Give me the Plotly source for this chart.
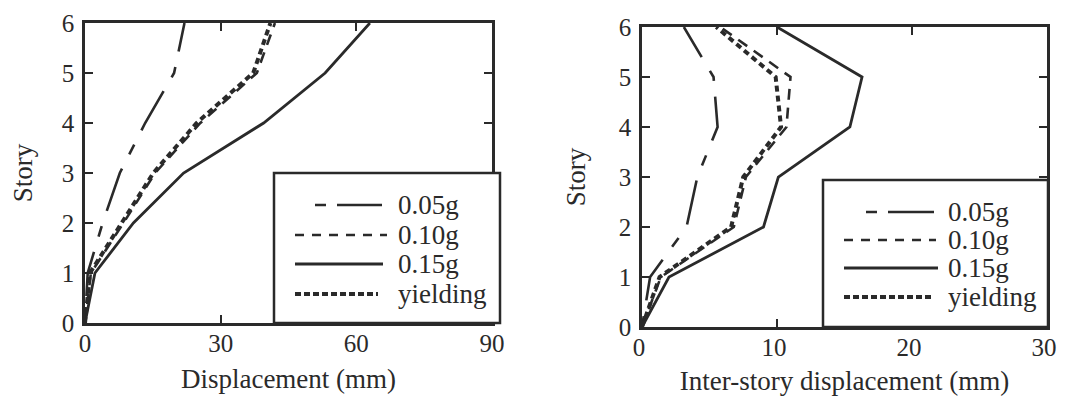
import plotly.graph_objects as go

# ---------------- data ----------------
stories = [0, 1, 2, 3, 4, 5, 6]
series_names = ["0.05g", "0.10g", "0.15g", "yielding"]

disp_005 = [0, 0.6, 3.9, 7.7, 13.3, 19.7, 22.0]
disp_010 = [0, 1.3, 8.5, 15.5, 25.5, 38.0, 42.0]
disp_015 = [0, 2.2, 10.7, 21.8, 39.5, 53.1, 63.0]
disp_yield = [0, 1.1, 8.1, 15.1, 24.7, 37.2, 41.0]

inter_005 = [0, 0.6, 3.3, 4.1, 5.6, 5.3, 3.1]
inter_010 = [0, 1.4, 6.8, 7.7, 10.7, 11.0, 5.8]
inter_015 = [0, 2.0, 9.0, 10.1, 15.4, 16.3, 10.0]
inter_yield = [0, 1.3, 6.6, 7.5, 10.3, 9.9, 5.5]

disp_ticks = [0, 30, 60, 90]
inter_ticks = [0, 10, 20, 30]
story_ticks = [0, 1, 2, 3, 4, 5, 6]

# ---------------- style ----------------
OFF = 8                      # page body margin of the browser
PAGE_W, PAGE_H = 1065, 406
W, H = PAGE_W - 2 * OFF, PAGE_H - 2 * OFF   # figure fits inside body (no scrollbars)
# plot area in page pixels
X0, X1 = 85, 1048
Y0, Y1 = 23, 327
INK = "#2a2a2a"
FONT = "Liberation Serif"
FS_TICK = 25
FS_TEXT = 27

dashes = {
    "0.05g": "11px,16px,45px,16px",
    "0.10g": "11px,8px",
    "0.15g": "solid",
    "yielding": "6px,4px",
}
widths = {"0.05g": 2.6, "0.10g": 2.6, "0.15g": 2.8, "yielding": 4.0}
legend_dashes = {
    "0.05g": "11px,11px,48px,5px",
    "0.10g": "9px,8px",
    "0.15g": "solid",
    "yielding": "6px,3px",
}

fig = go.Figure()

left = [disp_005, disp_010, disp_015, disp_yield]
right = [inter_005, inter_010, inter_015, inter_yield]
for name, xs in zip(series_names, left):
    fig.add_trace(go.Scatter(x=xs, y=stories, mode="lines", name=name,
                             line=dict(color=INK, width=widths[name], dash=dashes[name]),
                             showlegend=False, xaxis="x", yaxis="y"))
for name, xs in zip(series_names, right):
    fig.add_trace(go.Scatter(x=xs, y=stories, mode="lines", name=name,
                             line=dict(color=INK, width=widths[name], dash=dashes[name]),
                             showlegend=False, xaxis="x2", yaxis="y2"))

PW = X1 - X0
PH = Y1 - Y0


def fx(p):
    return (p - X0) / PW


def fy(p):
    return (Y1 - p) / PH


axis_common = dict(showline=True, linewidth=2.5, linecolor=INK, mirror="ticks",
                   ticks="inside", ticklen=8, tickwidth=2, tickcolor=INK,
                   showgrid=False, zeroline=False, automargin=False,
                   ticklabeloverflow="allow",
                   tickfont=dict(family=FONT, size=FS_TICK, color=INK))

fig.update_layout(
    width=W, height=H,
    margin=dict(l=X0 - OFF, r=(OFF + W) - X1, t=Y0 - OFF, b=(OFF + H) - Y1),
    paper_bgcolor="white", plot_bgcolor="white",
    showlegend=False,
    font=dict(family=FONT, size=FS_TEXT, color=INK),
    xaxis=dict(domain=[fx(85), fx(492)], range=[0, 90], tickvals=disp_ticks,
               ticklabelstandoff=-4,
               title=dict(text="Displacement (mm)", standoff=14,
                          font=dict(family=FONT, size=FS_TEXT, color=INK)),
               anchor="y", **axis_common),
    yaxis=dict(domain=[fy(323), fy(23)], range=[0, 6], tickvals=story_ticks,
               ticklabelstandoff=3,
               title=dict(text="Story", standoff=26,
                          font=dict(family=FONT, size=FS_TEXT, color=INK)),
               anchor="x", **axis_common),
    xaxis2=dict(domain=[fx(642), fx(1047)], range=[0, 30], tickvals=inter_ticks,
                ticklabelstandoff=-4, ticklabelshift=-3,
                title=dict(text="Inter-story displacement (mm)", standoff=12,
                           font=dict(family=FONT, size=FS_TEXT, color=INK)),
                anchor="y2", **axis_common),
    yaxis2=dict(domain=[fy(327), fy(27)], range=[0, 6], tickvals=story_ticks,
                ticklabelstandoff=3,
                title=dict(text="Story", standoff=26,
                           font=dict(family=FONT, size=FS_TEXT, color=INK)),
                anchor="x2", **axis_common),
)

# ---------------- custom legends (boxes, samples, labels) ----------------
legend_specs = [
    dict(box=(274, 500, 173, 323), starts=[315, 295, 295, 295], ends=[382, 387, 383, 378],
         tx=396, ys=[205, 235, 264, 294]),
    dict(box=(823, 1048, 180, 327), starts=[866, 844, 844, 844], ends=[934, 936, 938, 934],
         tx=946, ys=[212, 240, 268, 297]),
]
for spec in legend_specs:
    x0, x1, y0, y1 = spec["box"]
    fig.add_shape(type="rect", xref="paper", yref="paper",
                  x0=fx(x0), x1=fx(x1), y0=fy(y1), y1=fy(y0),
                  line=dict(color=INK, width=2.5), fillcolor="white", layer="above")
    for name, xs, xe, yy in zip(series_names, spec["starts"], spec["ends"], spec["ys"]):
        fig.add_shape(type="line", xref="paper", yref="paper",
                      x0=fx(xs), x1=fx(xe), y0=fy(yy), y1=fy(yy),
                      line=dict(color=INK, width=widths[name], dash=legend_dashes[name]),
                      layer="above")
        fig.add_annotation(xref="paper", yref="paper", x=fx(spec["tx"]), y=fy(yy),
                           text=name, showarrow=False, xanchor="left", yanchor="middle",
                           font=dict(family=FONT, size=FS_TEXT, color=INK))

fig.write_html("out.html")
